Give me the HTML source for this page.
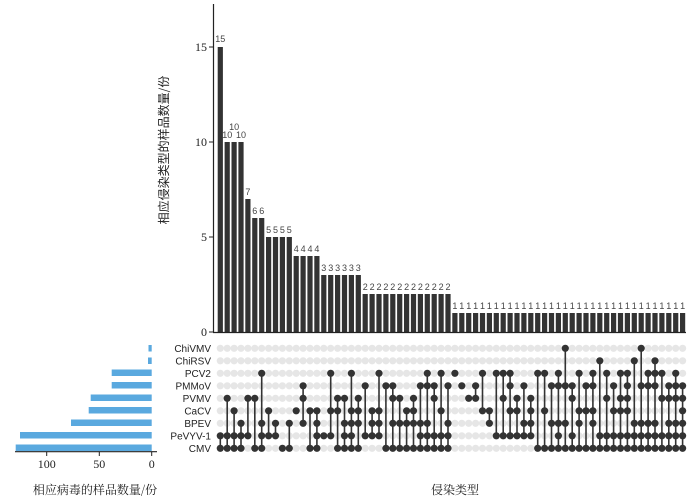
<!DOCTYPE html>
<html><head><meta charset="utf-8"><style>
body{margin:0;background:#fff;}
svg{display:block;}
</style></head><body>
<svg id="s" width="700" height="497" xmlns="http://www.w3.org/2000/svg" font-family="Liberation Sans, Noto Sans CJK SC, sans-serif">
<g id="bars"></g>
<g id="mat"></g>
<!-- axes main -->
<line x1="213.5" y1="4" x2="213.5" y2="332.5" stroke="#222" stroke-width="1.2"/>
<line x1="213" y1="332.5" x2="686" y2="332.5" stroke="#222" stroke-width="1.2"/>
<g stroke="#222" stroke-width="1"><line x1="209" y1="332" x2="213" y2="332"/><line x1="209" y1="237" x2="213" y2="237"/><line x1="209" y1="142" x2="213" y2="142"/><line x1="209" y1="47" x2="213" y2="47"/></g>
<g font-family="Liberation Serif, serif" font-size="12" fill="#222" text-anchor="end">
<text x="207" y="336">0</text><text x="207" y="241">5</text><text x="207" y="146">10</text><text x="207" y="51">15</text></g>
<text transform="translate(168,150) rotate(-90)" text-anchor="middle" font-size="12" fill="#222" font-family="Noto Sans CJK SC, sans-serif">相应侵染类型的样品数量/份</text>
<!-- bar labels -->
<g font-size="9" fill="#444" text-anchor="middle">
<text x="220.3" y="42">15</text>
<text x="227.2" y="138">10</text><text x="234.1" y="130">10</text><text x="241.0" y="138">10</text>
<text x="247.9" y="195">7</text>
<text x="254.8" y="214">6</text><text x="261.7" y="214">6</text>
<text x="268.6" y="233">5</text><text x="275.5" y="233">5</text><text x="282.4" y="233">5</text><text x="289.3" y="233">5</text>
<text x="296.2" y="252">4</text><text x="303.1" y="252">4</text><text x="310.0" y="252">4</text><text x="316.9" y="252">4</text>
<text x="323.8" y="271">3</text><text x="330.7" y="271">3</text><text x="337.6" y="271">3</text><text x="344.5" y="271">3</text><text x="351.4" y="271">3</text><text x="358.3" y="271">3</text>
<text id="t2" y="290">2222222222222</text>
<text id="t1" y="309">1111111111111111111111111111111111</text>
</g>
<!-- row labels -->
<g font-size="10" fill="#222" text-anchor="end">
<text x="211" y="352">ChiVMV</text><text x="211" y="364.5">ChiRSV</text><text x="211" y="377">PCV2</text><text x="211" y="389.5">PMMoV</text><text x="211" y="402">PVMV</text><text x="211" y="414.5">CaCV</text><text x="211" y="427">BPEV</text><text x="211" y="439.5">PeVYV-1</text><text x="211" y="452">CMV</text>
</g>
<!-- left bars -->
<g fill="#5aa9df">
<rect x="148.5" y="345" width="3.2" height="6.5"/>
<rect x="148" y="357.5" width="3.7" height="6.5"/>
<rect x="111.7" y="369.5" width="40" height="6.5"/>
<rect x="111.7" y="382" width="40" height="6.5"/>
<rect x="90.7" y="394.5" width="61" height="6.5"/>
<rect x="88.7" y="407" width="63" height="6.5"/>
<rect x="71" y="419.5" width="80.7" height="6.5"/>
<rect x="20" y="432" width="131.7" height="6.5"/>
<rect x="15.7" y="444.5" width="136" height="6.5"/>
</g>
<line x1="15" y1="451.7" x2="157" y2="451.7" stroke="#222" stroke-width="1.2"/>
<g stroke="#222"><line x1="46.7" y1="451.7" x2="46.7" y2="456"/><line x1="99.3" y1="451.7" x2="99.3" y2="456"/><line x1="151.7" y1="451.7" x2="151.7" y2="456"/></g>
<g font-family="Liberation Serif, serif" font-size="12" fill="#222" text-anchor="middle">
<text x="46.7" y="468">100</text><text x="99.3" y="468">50</text><text x="151.7" y="468">0</text></g>
<text x="95" y="494" text-anchor="middle" font-size="12" fill="#222" font-family="Noto Serif CJK SC, serif">相应病毒的样品数量/份</text>
<text x="455" y="494" text-anchor="middle" font-size="12" fill="#222" font-family="Noto Serif CJK SC, serif">侵染类型</text>
</svg>
<script>
var vals=[15,10,10,10,7,6,6,5,5,5,5,4,4,4,4,3,3,3,3,3,3];
for(var i=0;i<13;i++)vals.push(2);for(i=0;i<34;i++)vals.push(1);
var cols=[[7,8],[4,7,8],[5,7,8],[6,7,8],[4,7],[4,8],[2,6,7,8],[5,7],[6,7],[8],[6,8],[5],[3,4,6],[5,8],[5,6,7,8],[7],
[2,5,7],[4,5,8],[4,6,7,8],[2,5,6,7,8],[4,5,6,8],[3,7],[5,6,7],[2,5,6,7],[3,8],[3,4,6,8],[4,6,8],[5,6,8],[4,5,6,8],[3,6,7,8],[2,3,6,7,8],[3,4,7,8],[2,5,7,8],[3,6,7,8],
[2],[3],[4],[3,4],[2,5],[5,6],[2,7],[2,4,7],[2,3,5,7],[4,5,7],[3,6,7],[4,5,6,7],[2,8],[2,5,8],[3,6,8],[2,3,6,7,8],
[0,3,6,8],[3,4,7,8],[2,5,6,8],[3,5,8],[2,3,5,6,8],[1,7,8],[2,4,7,8],[3,5,7,8],[2,4,5,7,8],[2,3,4,5,7,8],[1,6,7,8],[0,3,6,7,8],[2,3,6,7,8],[1,2,3,6,7,8],[2,4,7,8],[3,4,6,7,8],[2,3,4,6,7,8],[3,4,5,6,7,8]];
var NS="http://www.w3.org/2000/svg";
function el(n,a,p){var e=document.createElementNS(NS,n);for(var k in a)e.setAttribute(k,a[k]);p.appendChild(e);return e;}
var B=document.getElementById('bars'),M=document.getElementById('mat');
function cx(i){return 220.3+6.9*i;}
function ry(r){return 348.3+12.5*r;}
var x2=[],x1=[];
for(i=0;i<vals.length;i++){
 el('rect',{x:cx(i)-2.6,y:332-19*vals[i],width:5.2,height:19*vals[i],fill:'#333'},B);
 if(vals[i]==2)x2.push(cx(i).toFixed(1));if(vals[i]==1)x1.push(cx(i).toFixed(1));
}
document.getElementById('t2').setAttribute('x',x2.join(' '));
document.getElementById('t1').setAttribute('x',x1.join(' '));
for(var r=0;r<9;r++)for(i=0;i<68;i++)el('circle',{cx:cx(i),cy:ry(r),r:3.6,fill:'#e6e6e6'},M);
for(i=0;i<cols.length;i++){var c=cols[i];
 if(c.length>1)el('line',{x1:cx(i),x2:cx(i),y1:ry(c[0]),y2:ry(c[c.length-1]),stroke:'#333','stroke-width':1.6},M);
 for(var j=0;j<c.length;j++)el('circle',{cx:cx(i),cy:ry(c[j]),r:3.6,fill:'#333'},M);}
</script>
</body></html>
